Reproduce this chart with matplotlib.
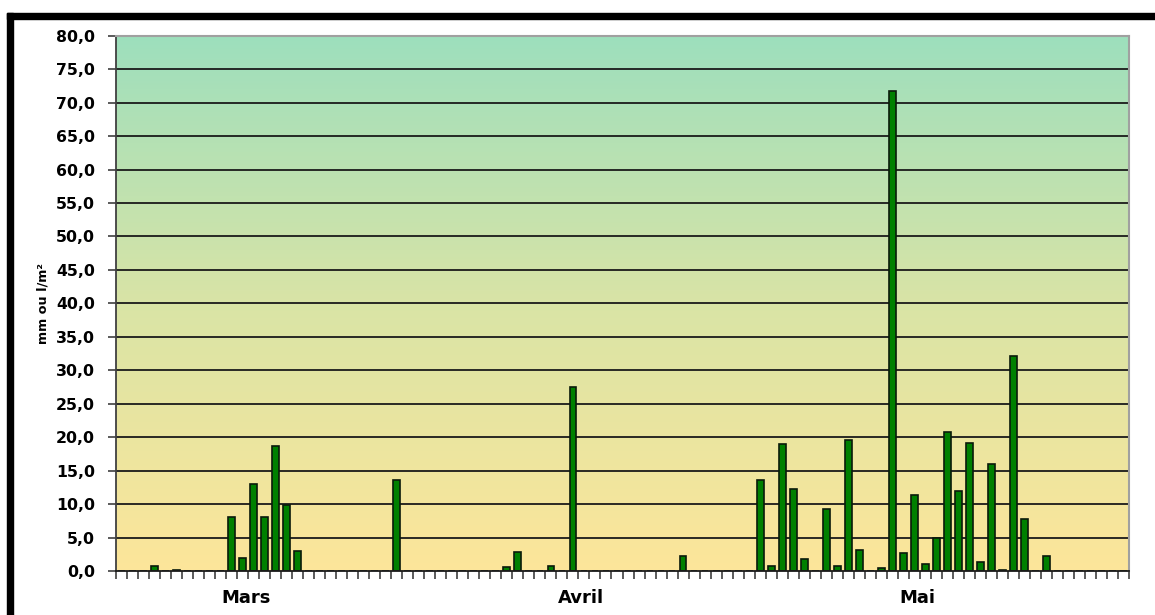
import matplotlib
matplotlib.use("Agg")
import matplotlib.pyplot as plt
import numpy as np
from matplotlib.colors import LinearSegmentedColormap
from matplotlib.patches import Rectangle

# Daily precipitation (mm) - March, April, May
mars = [0, 0, 0, 0.7, 0, 0.2, 0, 0, 0, 0,
        8.1, 1.9, 13.0, 8.1, 18.7, 9.9, 3.0, 0, 0, 0,
        0, 0, 0, 0, 0, 13.6, 0, 0, 0, 0,
        0]
avril = [0, 0, 0, 0, 0.6, 2.9, 0, 0, 0.8, 0,
         27.5, 0, 0, 0, 0, 0, 0, 0, 0, 0,
         2.2, 0, 0, 0, 0, 0, 0, 13.6, 0.8, 19.0]
mai = [12.2, 1.8, 0, 9.3, 0.8, 19.6, 3.1, 0, 0.5, 71.8,
       2.7, 11.3, 1.1, 4.9, 20.8, 11.9, 19.2, 1.3, 16.0, 0.2,
       32.2, 7.7, 0, 2.2, 0, 0, 0, 0, 0, 0,
       0]
month_labels = ["Mars", "Avril", "Mai"]
month_label_pos = [11.3, 41.7, 72.3]
y_ticks = [0, 5, 10, 15, 20, 25, 30, 35, 40, 45, 50, 55, 60, 65, 70, 75, 80]
y_label = "mm ou l/m²"

values = mars + avril + mai
n = len(values)
x = np.arange(n)

FONT = "DejaVu Sans"

W, H = 1155, 615
fig = plt.figure(figsize=(W / 100, H / 100), dpi=100)
fig.patch.set_facecolor("white")

left, right, top, bottom = 116, 1129, 35.7, 571
ax = fig.add_axes([left / W, (H - bottom) / H, (right - left) / W, (bottom - top) / H])

# gradient background
cmap = LinearSegmentedColormap.from_list(
    "bg", [(0.0, "#fde69a"), (0.5, "#d9e4a6"), (1.0, "#9ddfbd")])
grad = np.linspace(0, 1, 256).reshape(-1, 1)
ax.imshow(grad, cmap=cmap, aspect="auto", origin="lower",
          extent=[0, 1, 0, 1], transform=ax.transAxes, zorder=0)

ax.set_xlim(-0.5, n - 0.5)
ax.set_ylim(0, 80)

# grid lines
for yv in y_ticks[1:-1]:
    ax.axhline(yv, color="#1a1a1a", lw=1.3, zorder=1)

ax.bar(x, values, width=0.62, color="#008000", edgecolor="#0a1a0a",
       linewidth=1.2, zorder=3)

ax.set_yticks(y_ticks)
ax.set_yticklabels([f"{v:.1f}".replace(".", ",") for v in y_ticks],
                   fontfamily=FONT, fontweight="bold", fontsize=11.3)
ax.tick_params(axis="y", direction="out", length=6, width=1.2, color="#404040", pad=9)

ax.set_xticks(np.arange(-0.5, n, 1.0))
ax.set_xticklabels([])
ax.tick_params(axis="x", direction="out", length=6, width=1.2, color="#404040")

for lab, pos in zip(month_labels, month_label_pos):
    ax.text(pos, -0.05, lab, transform=ax.get_xaxis_transform(),
            ha="center", va="center", fontfamily=FONT,
            fontweight="bold", fontsize=13)

ax.set_ylabel(y_label, fontfamily=FONT, fontweight="bold",
              fontsize=9.2, labelpad=5)

ax.spines["left"].set_color("#404040")
ax.spines["left"].set_linewidth(1.3)
ax.spines["bottom"].set_color("#1a1a1a")
ax.spines["bottom"].set_linewidth(1.3)
ax.spines["top"].set_color("#a0a0a0")
ax.spines["top"].set_linewidth(1.5)
ax.spines["right"].set_color("#a0a0a0")
ax.spines["right"].set_linewidth(1.5)
for s in ax.spines.values():
    s.set_zorder(4)

# thick black frame (top and left)
fig.patches.append(Rectangle((7 / W, (H - 19) / H), (1155 - 7) / W, 6 / H,
                             transform=fig.transFigure, color="black", zorder=10))
fig.patches.append(Rectangle((7 / W, 0), 6 / W, (H - 13) / H,
                             transform=fig.transFigure, color="black", zorder=10))

fig.savefig("out.png", dpi=100)
